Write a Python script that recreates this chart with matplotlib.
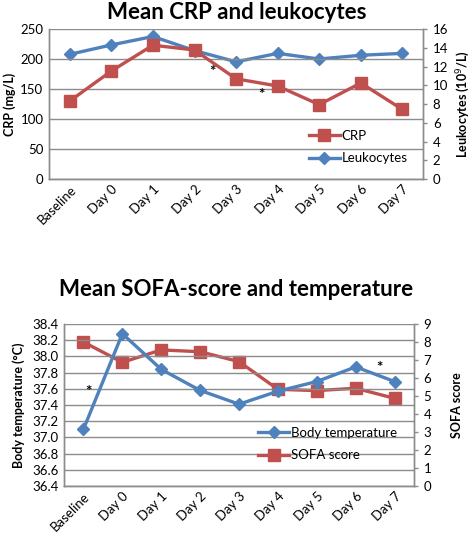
import matplotlib
matplotlib.use('Agg')
import matplotlib.pyplot as plt

plt.rcParams['font.family'] = ['Lato', 'DejaVu Sans']

days = ['Baseline', 'Day 0', 'Day 1', 'Day 2', 'Day 3', 'Day 4', 'Day 5', 'Day 6', 'Day 7']
crp = [130, 180, 223, 215, 167, 155, 124, 160, 116]
leuko = [13.3, 14.3, 15.2, 13.7, 12.5, 13.4, 12.8, 13.2, 13.4]
temp = [37.10, 38.28, 37.84, 37.58, 37.41, 37.57, 37.69, 37.87, 37.69]
sofa = [8.0, 6.87, 7.56, 7.46, 6.91, 5.37, 5.30, 5.43, 4.87]

# asterisks (x position in category units, y value on left axis)
star_top = [(3.44, 178), (4.6, 140)]
star_bot = [(0.13, 37.56), (7.6, 37.86)]

red = '#C0504D'
blue = '#4F81BD'
grid = '#8C8C8C'
x = list(range(len(days)))

fig = plt.figure(figsize=(4.73, 5.35), dpi=100)


def style(ax, ax2):
    for a in (ax, ax2):
        a.spines['top'].set_visible(False)
        for s in ('left', 'right', 'bottom'):
            a.spines[s].set_color(grid)
            a.spines[s].set_linewidth(1.0)
        a.tick_params(labelsize=9.5, width=1, color=grid, length=3)
    ax.tick_params(axis='y', length=0, pad=4)
    ax.tick_params(axis='x', length=0, pad=3)
    ax.yaxis.grid(True, color=grid, linewidth=1.0)
    ax.set_axisbelow(True)
    ax.set_xlim(-0.5, len(days) - 0.5)
    ax.set_xticks(x)
    ax.set_xticklabels(days, rotation=45, ha='right', rotation_mode='anchor', fontsize=9.5)
    ax2.tick_params(axis='y', pad=4)
    ax.set_zorder(ax2.get_zorder() + 1)
    ax.patch.set_visible(False)


# ---- top chart
ax = fig.add_axes([0.1036, 0.6654, 0.791, 0.2804])
ax2 = ax.twinx()
style(ax, ax2)
l1, = ax.plot(x, crp, color=red, lw=2.4, marker='s', ms=8.5, label='CRP')
l2, = ax2.plot(x, leuko, color=blue, lw=2.4, marker='D', ms=6.5, label='Leukocytes')
ax.set_ylim(0, 250)
ax.set_yticks(range(0, 251, 50))
ax2.set_ylim(0, 16)
ax2.set_yticks(range(0, 17, 2))
ax.set_ylabel('CRP (mg/L)', fontsize=9, fontweight='bold', labelpad=3)
ax2.set_ylabel('Leukocytes (10$^9$/L)', fontsize=9, fontweight='bold', labelpad=4)
for sx, sy in star_top:
    ax.text(sx, sy, '*', ha='center', va='center', fontsize=11, fontweight='bold')
ax.legend([l1, l2], ['CRP', 'Leukocytes'], loc='lower right', frameon=False,
          fontsize=9.5, handlelength=2.4, handletextpad=0.1, labelspacing=0.8,
          bbox_to_anchor=(0.99, 0.02))
fig.text(0.5, 0.977, 'Mean CRP and leukocytes', ha='center', va='center',
         fontsize=16, fontweight='bold')

# ---- bottom chart
bx = fig.add_axes([0.1353, 0.0916, 0.740, 0.3028])
bx2 = bx.twinx()
style(bx, bx2)
m1, = bx.plot(x, temp, color=blue, lw=2.4, marker='D', ms=6.5, label='Body temperature')
m2, = bx2.plot(x, sofa, color=red, lw=2.4, marker='s', ms=8.5, label='SOFA score')
bx.set_ylim(36.4, 38.4)
bx.set_yticks([36.4 + 0.2 * i for i in range(11)])
bx.set_yticklabels(['%.1f' % (36.4 + 0.2 * i) for i in range(11)])
bx2.set_ylim(0, 9)
bx2.set_yticks(range(0, 10))
bx.set_ylabel('Body temperature (°C)', fontsize=9, fontweight='bold', labelpad=5)
bx2.set_ylabel('SOFA score', fontsize=9, fontweight='bold', labelpad=14)
for sx, sy in star_bot:
    bx.text(sx, sy, '*', ha='center', va='center', fontsize=11, fontweight='bold')
bx.legend([m1, m2], ['Body temperature', 'SOFA score'], loc='lower right', frameon=False,
          fontsize=9.5, handlelength=2.4, handletextpad=0.1, labelspacing=0.8,
          bbox_to_anchor=(0.985, 0.08))
fig.text(0.5, 0.458, 'Mean SOFA-score and temperature', ha='center', va='center',
         fontsize=16, fontweight='bold')

fig.savefig('out.png', dpi=100)
